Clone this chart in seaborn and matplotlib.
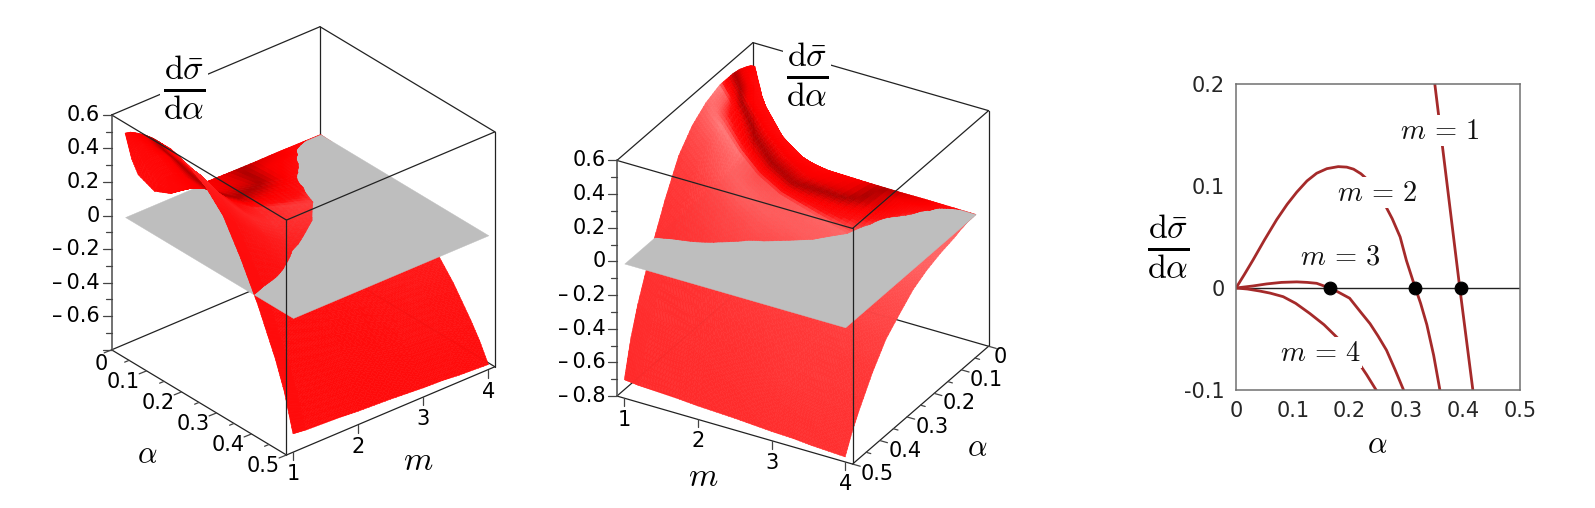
import numpy as np
import seaborn as sns
import matplotlib.pyplot as plt
from mpl_toolkits.mplot3d.art3d import Poly3DCollection
from mpl_toolkits.mplot3d import proj3d

# surface values, one list per m
surf_alpha = [0.02, 0.035, 0.05, 0.075, 0.1, 0.15, 0.2, 0.25, 0.3, 0.35, 0.4, 0.45, 0.475, 0.5]
surf_m = [1, 1.1, 1.2, 1.45, 1.7, 2, 2.5, 3, 3.3, 3.55, 4]
row_m1 = [0.50, 0.525, 0.54, 0.56, 0.57, 0.57, 0.535, 0.47, 0.36, 0.17, -0.05, -0.31, -0.47, -0.69]
row_m11 = [0.33, 0.41, 0.46, 0.49, 0.50, 0.51, 0.48, 0.43, 0.32, 0.14, -0.07, -0.33, -0.49, -0.695]
row_m12 = [0.22, 0.31, 0.36, 0.41, 0.44, 0.45, 0.44, 0.39, 0.28, 0.11, -0.09, -0.36, -0.51, -0.70]
row_m145 = [0.08, 0.145, 0.20, 0.25, 0.28, 0.30, 0.30, 0.27, 0.19, 0.06, -0.12, -0.38, -0.53, -0.705]
row_m17 = [0.025, 0.07, 0.11, 0.145, 0.17, 0.19, 0.195, 0.17, 0.10, -0.01, -0.16, -0.40, -0.54, -0.71]
row_m2 = [0.008, 0.028, 0.045, 0.07, 0.09, 0.115, 0.117, 0.09, 0.02, -0.07, -0.21, -0.42, -0.55, -0.72]
row_m25 = [0.003, 0.012, 0.02, 0.033, 0.045, 0.055, 0.05, 0.018, -0.045, -0.14, -0.27, -0.46, -0.58, -0.73]
row_m3 = [0.001, 0.003, 0.004, 0.005, 0.006, 0.003, -0.01, -0.048, -0.105, -0.22, -0.36, -0.52, -0.61, -0.745]
row_m33 = [0.002, 0.003, 0.003, 0.002, -0.002, -0.018, -0.035, -0.075, -0.14, -0.24, -0.375, -0.535, -0.625, -0.75]
row_m355 = [0.001, 0.0, -0.001, -0.006, -0.012, -0.035, -0.06, -0.1, -0.17, -0.26, -0.39, -0.55, -0.64, -0.76]
row_m4 = [-0.001, -0.003, -0.005, -0.015, -0.03, -0.05, -0.08, -0.125, -0.2, -0.28, -0.41, -0.57, -0.66, -0.77]
surf_rows = [row_m1, row_m11, row_m12, row_m145, row_m17, row_m2, row_m25, row_m3, row_m33, row_m355, row_m4]

# right panel curves
curve1_a = [0.35, 0.394, 0.417]
curve1_v = [0.2, 0.0, -0.1]
curve2_a = [0, 0.015, 0.03, 0.05, 0.0716, 0.09, 0.107, 0.125, 0.142, 0.16, 0.18, 0.195, 0.207, 0.22, 0.23,
            0.245, 0.259, 0.275, 0.289, 0.3, 0.313, 0.325, 0.336, 0.348, 0.359]
curve2_v = [0, 0.0135, 0.0275, 0.047, 0.067, 0.082, 0.094, 0.105, 0.1125, 0.117, 0.119, 0.1185, 0.1165, 0.112, 0.107,
            0.097, 0.085, 0.068, 0.05, 0.027, 0.0046, -0.015, -0.036, -0.066, -0.1]
curve3_a = [0, 0.03, 0.054, 0.08, 0.107, 0.125, 0.142, 0.15, 0.165, 0.18, 0.2, 0.22, 0.236, 0.25, 0.265, 0.28, 0.295]
curve3_v = [0, 0.002, 0.004, 0.0055, 0.006, 0.0055, 0.0046, 0.003, 0, -0.004, -0.01, -0.024, -0.035, -0.047, -0.061, -0.08, -0.1]
curve4_a = [0, 0.02, 0.042, 0.06, 0.083, 0.105, 0.13, 0.155, 0.177, 0.195, 0.212, 0.23, 0.25]
curve4_v = [0, -0.001, -0.003, -0.005, -0.0085, -0.015, -0.025, -0.036, -0.048, -0.058, -0.07, -0.085, -0.103]
root_a = [0.165, 0.315, 0.396]
root_v = [0, 0, 0]

alpha_lim = [0, 0.5]
m_lim = [0.9, 4.1]
z_lim = [-0.8, 0.6]
alpha_ticks = [0, 0.1, 0.2, 0.3, 0.4, 0.5]
alpha_minor = [0.05, 0.15, 0.25, 0.35, 0.45]
m_ticks = [1, 2, 3, 4]
z_ticks = [0.6, 0.4, 0.2, 0, -0.2, -0.4, -0.6, -0.8]
z_minor = [0.5, 0.3, 0.1, -0.1, -0.3, -0.5, -0.7]

sns.set_theme(style='white')
plt.rcParams['font.family'] = 'DejaVu Sans'
plt.rcParams['mathtext.fontset'] = 'cm'

W, H = 1595, 508
EDGE = 272  # px per cube edge
TICK_SIZE = 15
SUB = 6  # each table cell is shaded in SUB x SUB pieces
shade_cmap = sns.blend_palette(['#b00000', '#c00000', '#d40000', '#e80000', '#f80000', '#ff0000',
                                '#ff0606', '#ff0c0c', '#ff3434', '#ff6060', '#ffa8a8'], n_colors=256, as_cmap=True)
spans = np.array([alpha_lim[1] - alpha_lim[0], m_lim[1] - m_lim[0], z_lim[1] - z_lim[0]])


def clip_poly(pts, sign):
    # keep the part of a triangle above (sign=1) or below (sign=-1) z=0
    out = []
    for i in range(len(pts)):
        p, q = pts[i], pts[(i + 1) % len(pts)]
        if sign * p[2] >= 0:
            out.append(p)
        if p[2] * q[2] < 0:
            t = p[2] / (p[2] - q[2])
            out.append(p + t * (q - p))
    return out


def red_surface(ax, view, sign, zorder):
    A, M = np.meshgrid(surf_alpha, surf_m)
    Z = np.array(surf_rows)
    P = np.dstack([A, M, Z])
    # signed facing of the table points towards the viewer
    dz_dm, dz_da = np.gradient(Z, surf_m, surf_alpha)
    n = np.dstack([-dz_da * spans[2] / spans[0], -dz_dm * spans[2] / spans[1], np.ones_like(Z)])
    face = (n @ view) / np.linalg.norm(n, axis=2)
    w = np.linspace(0, 1, SUB + 1)
    polys, colors = [], []
    for i in range(P.shape[0] - 1):
        for j in range(P.shape[1] - 1):
            for u0, u1 in zip(w[:-1], w[1:]):
                for v0, v1 in zip(w[:-1], w[1:]):
                    def corner(u, v):
                        return ((1 - u) * (1 - v) * P[i, j] + (1 - u) * v * P[i, j + 1]
                                + u * v * P[i + 1, j + 1] + u * (1 - v) * P[i + 1, j])
                    um, vm = (u0 + u1) / 2, (v0 + v1) / 2
                    f = ((1 - um) * (1 - vm) * face[i, j] + (1 - um) * vm * face[i, j + 1]
                         + um * vm * face[i + 1, j + 1] + um * (1 - vm) * face[i + 1, j])
                    a, b, c, d = corner(u0, v0), corner(u0, v1), corner(u1, v1), corner(u1, v0)
                    for tri in ([a, b, c], [a, c, d]):
                        clipped = clip_poly(tri, sign)
                        if len(clipped) >= 3:
                            polys.append(clipped)
                            colors.append(shade_cmap(abs(f)))
    coll = Poly3DCollection(polys, facecolors=colors, edgecolors=colors, linewidths=0.4, zorder=zorder)
    ax.add_collection3d(coll)


def nudge(a, m, z, dx, dy, elev, azim):
    # data point shifted by a screen offset given in px
    e, f = np.radians(elev), np.radians(azim)
    right = np.array([-np.sin(f), np.cos(f), 0])
    up = np.array([-np.sin(e) * np.cos(f), -np.sin(e) * np.sin(f), np.cos(e)])
    return np.array([a, m, z]) + (dx * right + dy * up) / EDGE * spans


def cube_panel(left, bottom, elev, azim, far, z_a, alpha_m, a_off, a0_off, a_tick, z_skip):
    P = 500
    ax = fig.add_axes([left / W, bottom / H, P / W, P / H], projection='3d', computed_zorder=False)
    ax.set_proj_type('ortho')
    ax.view_init(elev=elev, azim=azim)
    ax.set_box_aspect((1, 1, 1), zoom=EDGE * 0.185 / (0.11 * P))
    ax.set_xlim(*alpha_lim, view_margin=0)
    ax.set_ylim(*m_lim, view_margin=0)
    ax.set_zlim(*z_lim, view_margin=0)
    ax.set_axis_off()

    e, f = np.radians(elev), np.radians(azim)
    view = np.array([np.cos(e) * np.cos(f), np.cos(e) * np.sin(f), np.sin(e)])

    def label(q, s, **kw):
        x2, y2, _ = proj3d.proj_transform(*q, ax.get_proj())
        ax.text2D(x2, y2, s, transform=ax.transData, va='center', fontsize=TICK_SIZE, color='black', zorder=11, **kw)

    # box edges, the ones at the far bottom corner go behind the surface
    for a in alpha_lim:
        for m in m_lim:
            z_order = 1 if (a, m) == far else 10
            is_axis = (a, m) == (z_a, m_lim[0])
            ax.plot([a, a], [m, m], z_lim, color='#666666' if is_axis else '#222222',
                    lw=1.3 if is_axis else 0.9, zorder=z_order)
    for z in z_lim:
        for m in m_lim:
            z_order = 1 if (m, z) == (far[1], z_lim[0]) else 10
            ax.plot(alpha_lim, [m, m], [z, z], color='#222222', lw=0.9, zorder=z_order)
        for a in alpha_lim:
            z_order = 1 if (a, z) == (far[0], z_lim[0]) else 10
            ax.plot([a, a], m_lim, [z, z], color='#222222', lw=0.9, zorder=z_order)

    red_surface(ax, view, -1, 2)
    plane = [[surf_alpha[0], surf_m[0], 0], [surf_alpha[-1], surf_m[0], 0],
             [surf_alpha[-1], surf_m[-1], 0], [surf_alpha[0], surf_m[-1], 0]]
    ax.add_collection3d(Poly3DCollection([plane], facecolors='#bebebe', edgecolors='#bebebe', linewidths=0.3, zorder=3))
    red_surface(ax, view, 1, 4)

    # ticks
    def tick(a, m, z, dx, dy):
        q = nudge(a, m, z, dx, dy, elev, azim)
        ax.plot([a, q[0]], [m, q[1]], [z, q[2]], color='#444444', lw=0.9, zorder=10)

    for z in z_ticks:
        tick(z_a, m_lim[0], z, -9, 0)
        if z in z_skip:
            continue
        lab = f'{z:g}' if z >= 0 else '\u2013\u2009' + f'{-z:g}'
        label(nudge(z_a, m_lim[0], z, -11.5, 0, elev, azim), lab, ha='right')
    for z in z_minor:
        tick(z_a, m_lim[0], z, -6, 0)
    for a in alpha_ticks:
        tick(a, alpha_m, z_lim[0], *a_tick)
        off = a_off if a > 0 else a0_off
        label(nudge(a, alpha_m, z_lim[0], *off, elev, azim), f'{a:g}', ha='center')
    for a in alpha_minor:
        tick(a, alpha_m, z_lim[0], a_tick[0] * 0.6, a_tick[1] * 0.6)
    for m in m_ticks:
        tick(alpha_lim[1], m, z_lim[0], 0, -8)
        label(nudge(alpha_lim[1], m, z_lim[0], 0, -22, elev, azim), f'{m}', ha='center')
    return ax


def math_label(px, py, s, size, box=True):
    kw = dict(facecolor='white', edgecolor='none', pad=2) if box else None
    fig.text(px / W, 1 - py / H, s, ha='center', va='center', fontsize=size, color='black', bbox=kw, zorder=20)


fig = plt.figure(figsize=(W / 100, H / 100), dpi=100)

frac = r'$\frac{\mathrm{d}\bar{\sigma}}{\mathrm{d}\alpha}$'
cube_panel(46.5, 10.4, 30.3, -40, (alpha_lim[0], m_lim[1]), alpha_lim[0], m_lim[0],
           (-23, -11), (-10, -14), (-7.4, -3), [-0.8])
cube_panel(546, -2.1, 30, 30, (alpha_lim[0], m_lim[0]), alpha_lim[1], m_lim[1],
           (25, -10), (12, -11), (7.7, -2.2), [])

math_label(184, 88, frac, 35)
math_label(147, 455, r'$\alpha$', 22, box=False)
math_label(418, 460, r'$m$', 24, box=False)
math_label(807, 75, frac, 35)
math_label(977, 448, r'$\alpha$', 22, box=False)
math_label(703, 477, r'$m$', 24, box=False)

# right panel
ax3 = fig.add_axes([1236 / W, 1 - 390 / H, 284 / W, 306 / H])
for c_a, c_v in [(curve1_a, curve1_v), (curve2_a, curve2_v), (curve3_a, curve3_v), (curve4_a, curve4_v)]:
    sns.lineplot(x=c_a, y=c_v, ax=ax3, color='brown', lw=2, sort=False, estimator=None, zorder=2)
ax3.axhline(0, color='#222222', lw=1, zorder=1)
sns.scatterplot(x=root_a, y=root_v, ax=ax3, color='black', s=85, edgecolor='black', zorder=3, clip_on=False)
ax3.set_xlim(0, 0.5)
ax3.set_ylim(-0.1, 0.2)
ax3.set_xticks(alpha_ticks)
ax3.set_xticklabels([f'{a:g}' for a in alpha_ticks])
ax3.set_xticks(alpha_minor, minor=True)
ax3.set_yticks([0.2, 0.1, 0, -0.1])
ax3.set_yticklabels(['0.2', '0.1', '0', '-0.1'])
ax3.set_yticks([0.15, 0.05, -0.05], minor=True)
ax3.tick_params(which='major', direction='out', length=3, width=0.8, color='#555555', pad=5, labelsize=TICK_SIZE)
ax3.tick_params(which='minor', direction='out', length=1.5, width=0.8, color='#555555')
for s in ax3.spines.values():
    s.set_color('#707070')
    s.set_linewidth(1.1)
for txt, a, v in [('$m\\,=\\,1$', 0.359, 0.154), ('$m\\,=\\,2$', 0.249, 0.0935),
                  ('$m\\,=\\,3$', 0.183, 0.0307), ('$m\\,=\\,4$', 0.148, -0.0634)]:
    ax3.text(a, v, txt, ha='center', va='center', fontsize=20.5, color='#111111', zorder=5,
             bbox=dict(facecolor='white', edgecolor='none', pad=1))

math_label(1168, 247, frac, 35, box=False)
math_label(1377, 445, r'$\alpha$', 22, box=False)

fig.savefig('out.png', dpi=100)
